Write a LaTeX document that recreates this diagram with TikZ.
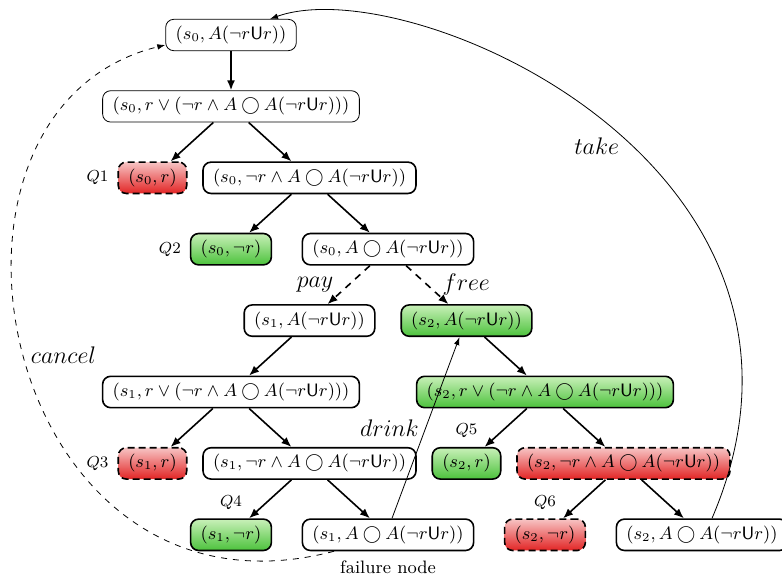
\documentclass[tikz,border=0pt]{standalone}
\usepackage{amssymb}
\usepackage{amsmath}
\usepackage{tikz}
\usetikzlibrary{arrows.meta}
\usetikzlibrary{trees}

\definecolor{okTop}{HTML}{C8F0B8}
\definecolor{okBottom}{HTML}{4CC23C}
\definecolor{failTop}{HTML}{F7C4C4}
\definecolor{failBottom}{HTML}{E22424}

\newcommand{\untilf}{A(\neg r\mathsf{U}r)}

\begin{document}
\begin{tikzpicture}
  [level distance=35.7pt,
   sibling distance=78.5pt,
   label distance=1pt,
   >={Latex[length=5pt,width=4pt]},
   statebox/.style={rectangle,
                    rounded corners=4pt,
                    draw=black,
                    solid,
                    inner xsep=5pt,
                    minimum height=14.5pt,
                    font=\small},
   rootstate/.style={statebox,thin},
   openstate/.style={statebox,thick},
   okstate/.style={openstate,top color=okTop,bottom color=okBottom},
   failstate/.style={openstate,
                     dash pattern=on 3.5pt off 2pt,
                     top color=failTop,
                     bottom color=failBottom},
   every label/.style={font=\footnotesize},
   edge from parent/.style={->,draw,thick},
   choiceedge/.style={dash pattern=on 3.5pt off 3pt},
   level 5/.style={edge from parent/.append style={solid}},
   actionlabel/.style={font=\large},
   jump/.style={->,>={Latex[length=4pt,width=2.8pt]}}]
  \useasboundingbox (0,0) rectangle (391pt,-288pt);
  \node[rootstate] (s0u) at (115.5pt,-17.5pt) {$(s_0, \untilf)$}
    child {node[rootstate] (s0or) {$(s_0, r\vee(\neg r\wedge A\bigcirc \untilf))$}
      child {node[failstate,label=left:$Q1$] (s0r) {$(s_0, r)$}}
      child {node[openstate] (s0and) {$(s_0, \neg r\wedge A\bigcirc \untilf)$}
        child {node[okstate,label=left:$Q2$] (s0nr) {$(s_0, \neg r)$}}
        child {node[openstate] (s0next) {$(s_0, A\bigcirc \untilf)$}
          child {node[openstate] (s1u) {$(s_1, \untilf)$}
            child {node[openstate] (s1or) {$(s_1, r\vee(\neg r\wedge A\bigcirc \untilf))$}
              child {node[failstate,label=left:$Q3$] (s1r) {$(s_1, r)$}}
              child {node[openstate] (s1and) {$(s_1, \neg r\wedge A\bigcirc \untilf)$}
                child {node[okstate,label=above:$Q4$] (s1nr) {$(s_1, \neg r)$}}
                child {node[openstate,label={[font=\small]below:failure node}] (s1next) {$(s_1, A\bigcirc \untilf)$}}
              }
            }
            child[missing] {}
            edge from parent[choiceedge] node[actionlabel,left=4pt] (paylbl) {$pay$}
          }
          child {node[okstate] (s2u) {$(s_2, \untilf)$}
            child[missing] {}
            child {node[okstate] (s2or) {$(s_2, r\vee(\neg r\wedge A\bigcirc \untilf))$}
              child {node[okstate,label=above:$Q5$] (s2r) {$(s_2, r)$}}
              child {node[failstate] (s2and) {$(s_2, \neg r\wedge A\bigcirc \untilf)$}
                child {node[failstate,label=above:$Q6$] (s2nr) {$(s_2, \neg r)$}}
                child {node[openstate] (s2next) {$(s_2, A\bigcirc \untilf)$}}
              }
            }
            edge from parent[choiceedge] node[actionlabel,right=4pt] (freelbl) {$free$}
          }
        }
      }
    };
  % extra transitions
  \draw[jump] ([xshift=5pt]s2next.north)
    .. controls +(75pt,175pt) and +(70pt,25pt) .. ([xshift=19.5pt]s0u.north)
    node[actionlabel,pos=.45,left=3pt] (takelbl) {$take$};
  \draw[jump] ([xshift=2pt]s1next.north) -- node[actionlabel,left] (drinklbl) {$drink$} ([xshift=-3.5pt]s2u.south);
  \draw[jump,dashed] ([xshift=-27pt]s1next.south)
    .. controls +(-167.5pt,-44pt) and +(-133.5pt,-32.5pt) .. ([yshift=-5pt]s0u.west)
    node[actionlabel,pos=.5,right] (cancellbl) {$cancel$};
\end{tikzpicture}
\end{document}
